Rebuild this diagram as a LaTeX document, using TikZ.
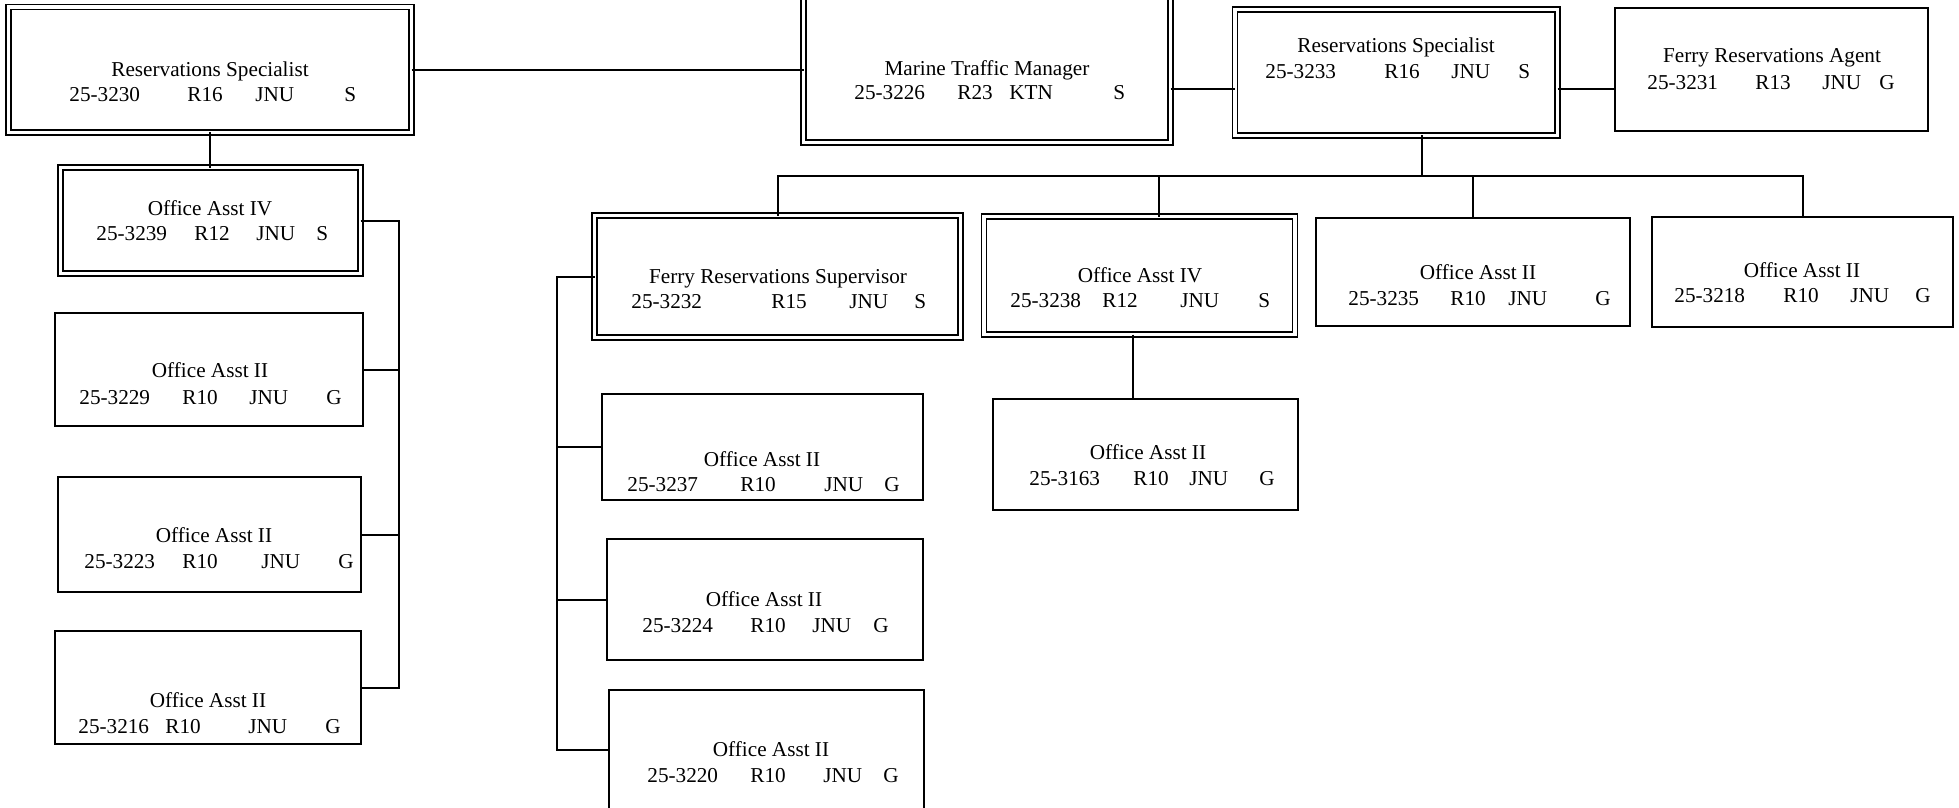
\documentclass[tikz,border=0pt]{standalone}
\usepackage{fontspec}
\setmainfont{Liberation Serif}
\newdimen\pxu \pxu=0.5pt
\newcommand\pp[2]{\makebox[0pt][l]{\hspace*{#1\pxu}#2}}
\newcommand\mkbox[6]{\node[#6, minimum width={(#4-#2)*0.5pt}, minimum height={(#5-#3)*0.5pt}] (#1) at ({(#2+#4)/2},{(#3+#5)/2}) {};}
\tikzset{
  sbox/.style={draw, line width=1pt, inner sep=0pt, outer sep=0pt},
  dbox/.style={draw, line width=0.9pt, double, double distance=1.6pt, inner sep=0pt, outer sep=0pt},
  conn/.style={draw, line width=1pt},
  ttl/.style={anchor=base, inner sep=0pt, font=\fontsize{10.6}{12}\selectfont},
  fld/.style={anchor=base west, inner sep=0pt, font=\fontsize{10.6}{12}\selectfont},
}
\begin{document}
\begin{tikzpicture}[x=0.5pt, y=-0.5pt]
\useasboundingbox (0,0) rectangle (1959,808);
\clip (0,0) rectangle (1959,808);

% boxes
\mkbox{rs3230}{8.5}{7}{411.5}{132.5}{dbox}
\mkbox{oa3239}{60.5}{167.5}{360.5}{273.5}{dbox}
\mkbox{oa3229}{55}{313}{363}{426}{sbox}
\mkbox{oa3223}{58}{477}{361}{592}{sbox}
\mkbox{oa3216}{55}{631}{361}{744}{sbox}
\mkbox{mtm}{803.5}{-20}{1170.5}{142.5}{dbox}
\mkbox{rs3233}{1235}{9.5}{1557.5}{135.5}{dbox}
\mkbox{fra}{1615}{8}{1928}{131}{sbox}
\mkbox{frs}{594.5}{215.5}{960.5}{337.5}{dbox}
\mkbox{oa3237}{602}{394}{923}{500}{sbox}
\mkbox{oa3224}{607}{539}{923}{660}{sbox}
\mkbox{oa3220}{609}{690}{924}{810}{sbox}
\mkbox{oa3238}{984}{216.5}{1295}{334.5}{dbox}
\mkbox{oa3163}{993}{399}{1298}{510}{sbox}
\mkbox{oa3235}{1316}{218}{1630}{326}{sbox}
\mkbox{oa3218}{1652}{217}{1953}{327}{sbox}

% texts
\node[ttl] (rs3230t) at (210,77) {Reservations Specialist};
\node[fld] (rs3230f) at (68,102) {\pp{0}{25-3230}\pp{118}{R16}\pp{186}{JNU}\pp{275}{S}};
\node[ttl] (oa3239t) at (210,215) {Office Asst IV};
\node[fld] (oa3239f) at (95,240) {\pp{0}{25-3239}\pp{98}{R12}\pp{160}{JNU}\pp{220}{S}};
\node[ttl] (oa3229t) at (210,377) {Office Asst II};
\node[fld] (oa3229f) at (78,404) {\pp{0}{25-3229}\pp{103}{R10}\pp{170}{JNU}\pp{247}{G}};
\node[ttl] (oa3223t) at (214,542) {Office Asst II};
\node[fld] (oa3223f) at (83,568) {\pp{0}{25-3223}\pp{98}{R10}\pp{177}{JNU}\pp{254}{G}};
\node[ttl] (oa3216t) at (208,707) {Office Asst II};
\node[fld] (oa3216f) at (77,733) {\pp{0}{25-3216}\pp{87}{R10}\pp{170}{JNU}\pp{247}{G}};
\node[ttl] (mtmt) at (987,76) {Marine Traffic Manager};
\node[fld] (mtmf) at (853,100) {\pp{0}{25-3226}\pp{103}{R23}\pp{155}{KTN}\pp{259}{S}};
\node[ttl] (rs3233t) at (1396,53) {Reservations Specialist};
\node[fld] (rs3233f) at (1264,79) {\pp{0}{25-3233}\pp{119}{R16}\pp{186}{JNU}\pp{253}{S}};
\node[ttl] (frat) at (1772,63) {Ferry Reservations Agent};
\node[fld] (fraf) at (1646,90) {\pp{0}{25-3231}\pp{108}{R13}\pp{175}{JNU}\pp{232}{G}};
\node[ttl] (frst) at (778,283) {Ferry Reservations Supervisor};
\node[fld] (frsf) at (630,308) {\pp{0}{25-3232}\pp{140}{R15}\pp{218}{JNU}\pp{283}{S}};
\node[ttl] (oa3237t) at (762,466) {Office Asst II};
\node[fld] (oa3237f) at (626,491) {\pp{0}{25-3237}\pp{113}{R10}\pp{197}{JNU}\pp{257}{G}};
\node[ttl] (oa3224t) at (764,606) {Office Asst II};
\node[fld] (oa3224f) at (641,632) {\pp{0}{25-3224}\pp{108}{R10}\pp{170}{JNU}\pp{231}{G}};
\node[ttl] (oa3220t) at (771,756) {Office Asst II};
\node[fld] (oa3220f) at (646,782) {\pp{0}{25-3220}\pp{103}{R10}\pp{176}{JNU}\pp{236}{G}};
\node[ttl] (oa3238t) at (1140,282) {Office Asst IV};
\node[fld] (oa3238f) at (1009,307) {\pp{0}{25-3238}\pp{92}{R12}\pp{170}{JNU}\pp{248}{S}};
\node[ttl] (oa3163t) at (1148,459) {Office Asst II};
\node[fld] (oa3163f) at (1028,485) {\pp{0}{25-3163}\pp{104}{R10}\pp{160}{JNU}\pp{230}{G}};
\node[ttl] (oa3235t) at (1478,279) {Office Asst II};
\node[fld] (oa3235f) at (1347,305) {\pp{0}{25-3235}\pp{102}{R10}\pp{160}{JNU}\pp{247}{G}};
\node[ttl] (oa3218t) at (1802,277) {Office Asst II};
\node[fld] (oa3218f) at (1673,302) {\pp{0}{25-3218}\pp{109}{R10}\pp{176}{JNU}\pp{241}{G}};

% helper coordinates
\coordinate (spL) at (399,0);
\coordinate (spM) at (557,0);
\coordinate (rowB) at (0,89);
\coordinate (bus) at (0,176);
\coordinate (d0) at ([xshift=13pt]rs3233.south);
\coordinate (d1) at ([xshift=9.75pt]oa3238.north);
\coordinate (d2) at ([xshift=-3.25pt]oa3238.south);

% connectors
\draw[conn] (rs3230.east) -- (mtm.west |- rs3230.east);
\draw[conn] (rs3230.south) -- (rs3230.south |- oa3239.north);
\draw[conn] (oa3239.east) -- (oa3239.east -| spL) -- (oa3216.east -| spL) -- (oa3216.east);
\draw[conn] (oa3229.east) -- (oa3229.east -| spL);
\draw[conn] (oa3223.east) -- (oa3223.east -| spL);

\draw[conn] (mtm.east |- rowB) -- (rs3233.west |- rowB);
\draw[conn] (rs3233.east |- rowB) -- (fra.west |- rowB);

\draw[conn] (frs.north) -- (frs.north |- bus) -- (oa3218.north |- bus) -- (oa3218.north);
\draw[conn] (d0) -- (d0 |- bus);
\draw[conn] (d1) -- (d1 |- bus);
\draw[conn] (oa3235.north) -- (oa3235.north |- bus);
\draw[conn] (d2) -- (d2 |- oa3163.north);

\draw[conn] (frs.west) -- (frs.west -| spM) -- (oa3220.west -| spM) -- (oa3220.west);
\draw[conn] (oa3237.west) -- (oa3237.west -| spM);
\draw[conn] (oa3224.west) -- (oa3224.west -| spM);
\end{tikzpicture}
\end{document}
